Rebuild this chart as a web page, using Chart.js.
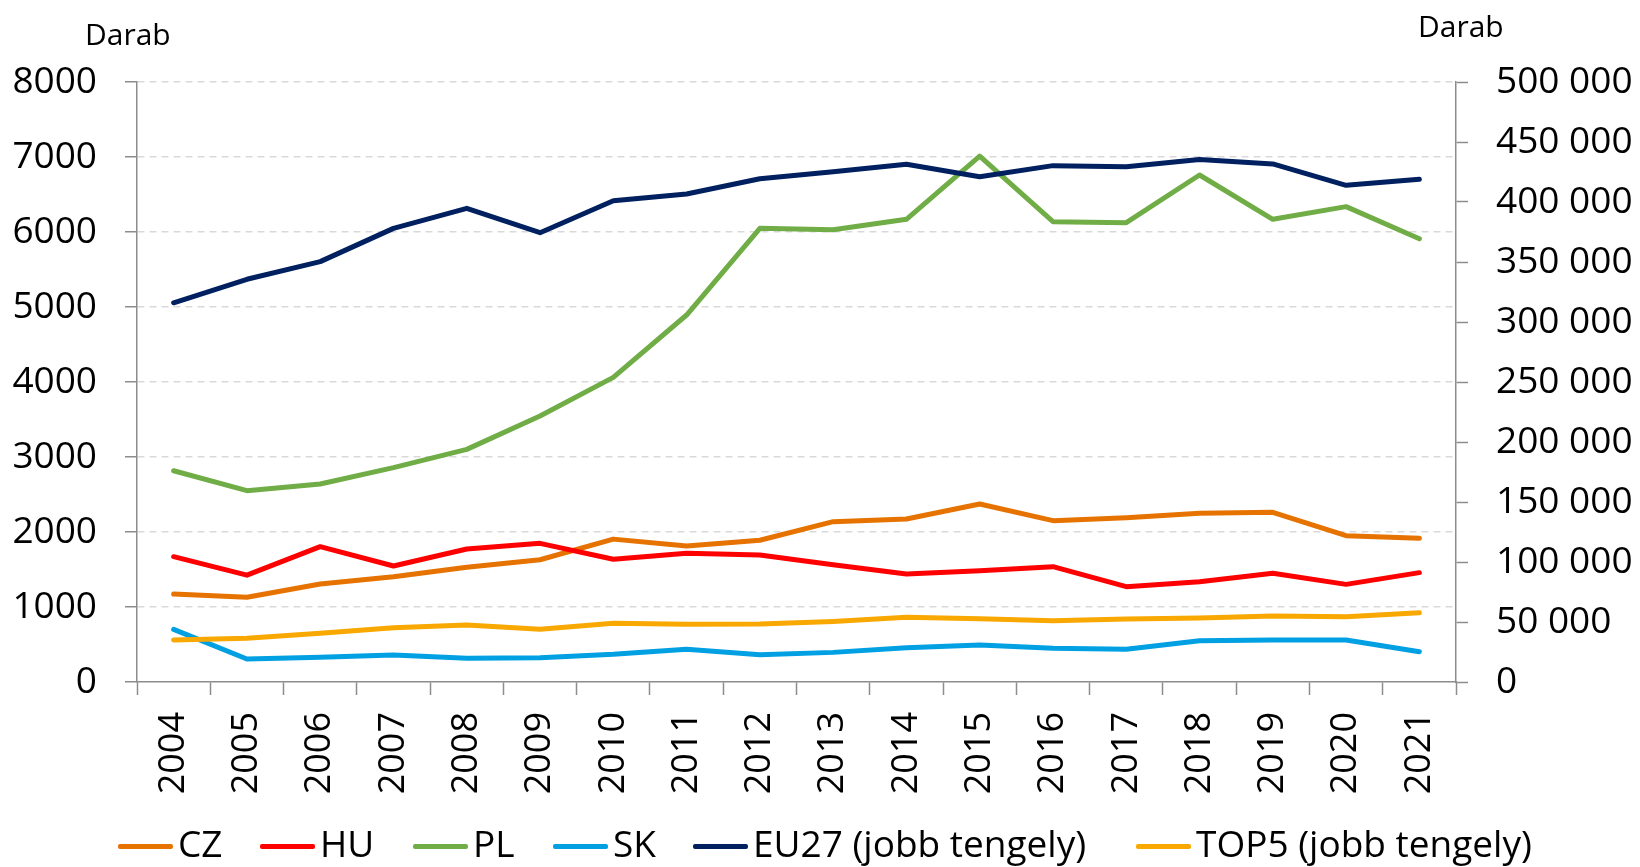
<!DOCTYPE html>
<html>
<head>
<meta charset="utf-8">
<script src="https://cdn.jsdelivr.net/npm/chart.js@4.4.0/dist/chart.umd.min.js"></script>
<style>
html,body{margin:0;padding:0;background:#fff;}
#wrap{position:relative;width:1640px;height:867px;overflow:hidden;background:#fff;}
#c{position:absolute;left:0;top:0;}
.lgline{position:absolute;height:5px;width:55px;top:844px;border-radius:2px;}
.lgtext{position:absolute;top:818px;font-family:'Open Sans',sans-serif;font-size:37px;line-height:50px;color:#000;white-space:nowrap;}
</style>
</head>
<body>
<div id="wrap">
<canvas id="c" width="1640" height="867"></canvas>
<div id="legend"></div>
</div>
<script>
// ---- data ----
const years = ['2004','2005','2006','2007','2008','2009','2010','2011','2012','2013','2014','2015','2016','2017','2018','2019','2020','2021'];
const seriesNames = ['CZ','HU','PL','SK','EU27 (jobb tengely)','TOP5 (jobb tengely)'];
const cz   = [1173,1129,1307,1404,1530,1630,1905,1813,1890,2138,2173,2373,2151,2191,2249,2262,1951,1916];
const hu   = [1671,1425,1804,1547,1773,1849,1636,1716,1693,1563,1440,1484,1538,1271,1338,1449,1302,1458];
const pl   = [2817,2551,2640,2858,3102,3547,4062,4893,6049,6030,6169,7013,6138,6124,6760,6169,6338,5911];
const sk   = [702,307,329,360,316,324,369,436,364,395,458,493,449,436,551,560,560,404];
const eu27 = [316000,335600,350300,378000,394700,374400,401100,406700,419400,425300,431400,421100,430300,429400,435500,431700,413900,418900];
const top5 = [35000,36400,40600,45300,47500,43900,48900,48100,48300,50500,53900,52800,51100,52500,53300,55000,54400,57800];
const axisTitle = 'Darab';

const colors = ['#E67300','#FF0000','#70AD47','#00A0E3','#002060','#F8A800'];
const FONT = "'Open Sans', sans-serif";

function fmtSpace(v){ return String(v).replace(/\B(?=(\d{3})+(?!\d))/g, ' '); }

const seriesData = [cz, hu, pl, sk, eu27, top5];
const axisIds = ['y','y','y','y','y1','y1'];
const datasets = seriesData.map((d,i)=>({
  label: seriesNames[i],
  data: d,
  yAxisID: axisIds[i],
  borderColor: colors[i],
  backgroundColor: colors[i],
  borderWidth: 5,
  pointRadius: 0,
  tension: 0,
  borderCapStyle: 'round',
  borderJoinStyle: 'round',
  order: seriesData.length - i
}));

const titlesPlugin = {
  id: 'axisTitles',
  afterDraw(chart){
    const ctx = chart.ctx;
    ctx.save();
    ctx.font = "30px " + FONT;
    ctx.fillStyle = '#000';
    ctx.textBaseline = 'alphabetic';
    ctx.textAlign = 'left';
    ctx.fillText(axisTitle, 85, 45);
    ctx.fillText(axisTitle, 1418, 37);
    ctx.restore();
  }
};

const GRAY = '#8c8c8c';
new Chart(document.getElementById('c'), {
  type: 'line',
  data: { labels: years, datasets },
  plugins: [titlesPlugin],
  options: {
    responsive: false,
    animation: false,
    devicePixelRatio: 1,
    layout: { padding: { top: 82, left: 0, right: 0, bottom: 0 } },
    plugins: { legend: { display: false }, tooltip: { enabled: false } },
    scales: {
      x: {
        type: 'category',
        offset: true,
        grid: { offset: true, drawOnChartArea: false, drawTicks: true, tickLength: 13, tickColor: GRAY, tickWidth: 1.5 },
        border: { display: true, color: GRAY, width: 1.5 },
        ticks: { minRotation: 90, maxRotation: 90, autoSkip: false, padding: 17, color: '#000', font: { family: FONT, size: 36 } },
        afterFit: s => { s.height = 867 - 682; }
      },
      y: {
        position: 'left',
        min: 0, max: 8000,
        ticks: { stepSize: 1000, padding: 28, color: '#000', font: { family: FONT, size: 37 }, callback: v => String(v) },
        grid: {
          color: c => (c.tick && c.tick.value === 0) ? 'rgba(0,0,0,0)' : '#d9d9d9',
          lineWidth: 1.5, tickLength: 12, tickColor: GRAY, tickWidth: 1.5
        },
        border: { display: true, color: GRAY, width: 1.5, dash: [7,5] },
        afterFit: s => { s.width = 137; }
      },
      y1: {
        position: 'right',
        min: 0, max: 500000,
        ticks: { stepSize: 50000, padding: 28, color: '#000', font: { family: FONT, size: 37 }, callback: v => fmtSpace(v) },
        grid: { drawOnChartArea: false, tickLength: 12, tickColor: GRAY, tickWidth: 1.5 },
        border: { display: true, color: GRAY, width: 1.5 },
        afterFit: s => { s.width = 1640 - 1456; }
      }
    }
  }
});

// HTML legend
const legendX = [118, 260, 413, 553, 693, 1136];
const lg = document.getElementById('legend');
seriesNames.forEach((n,i)=>{
  const l = document.createElement('div');
  l.className = 'lgline';
  l.style.left = legendX[i] + 'px';
  l.style.background = colors[i];
  lg.appendChild(l);
  const t = document.createElement('div');
  t.className = 'lgtext';
  t.style.left = (legendX[i] + 60) + 'px';
  t.textContent = n;
  lg.appendChild(t);
});
</script>
</body>
</html>
